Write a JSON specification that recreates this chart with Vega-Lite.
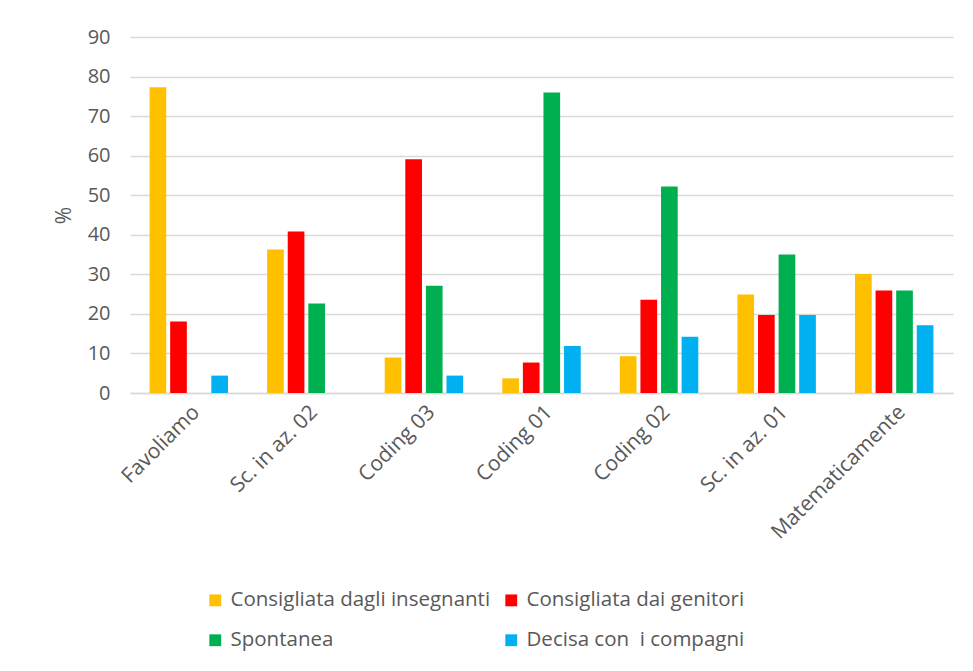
{
  "$schema": "https://vega.github.io/schema/vega-lite/v6.json",
  "autosize": {"type": "none"},
  "width": 823,
  "height": 356,
  "padding": {"left": 130, "top": 37, "right": 20, "bottom": 278},
  "background": "white",
  "config": {
    "font": "Open Sans",
    "view": {"stroke": null}
  },
  "data": {
    "values": [
      {"corso": "Favoliamo", "scelta": "Consigliata dagli insegnanti", "v": 77.3},
      {"corso": "Favoliamo", "scelta": "Consigliata dai genitori", "v": 18.1},
      {"corso": "Favoliamo", "scelta": "Spontanea", "v": 0},
      {"corso": "Favoliamo", "scelta": "Decisa con\u00a0 i compagni", "v": 4.4},
      {"corso": "Sc. in az. 02", "scelta": "Consigliata dagli insegnanti", "v": 36.3},
      {"corso": "Sc. in az. 02", "scelta": "Consigliata dai genitori", "v": 40.8},
      {"corso": "Sc. in az. 02", "scelta": "Spontanea", "v": 22.6},
      {"corso": "Sc. in az. 02", "scelta": "Decisa con\u00a0 i compagni", "v": 0},
      {"corso": "Coding 03", "scelta": "Consigliata dagli insegnanti", "v": 9.0},
      {"corso": "Coding 03", "scelta": "Consigliata dai genitori", "v": 59.1},
      {"corso": "Coding 03", "scelta": "Spontanea", "v": 27.1},
      {"corso": "Coding 03", "scelta": "Decisa con\u00a0 i compagni", "v": 4.4},
      {"corso": "Coding 01", "scelta": "Consigliata dagli insegnanti", "v": 3.7},
      {"corso": "Coding 01", "scelta": "Consigliata dai genitori", "v": 7.7},
      {"corso": "Coding 01", "scelta": "Spontanea", "v": 76.0},
      {"corso": "Coding 01", "scelta": "Decisa con\u00a0 i compagni", "v": 11.9},
      {"corso": "Coding 02", "scelta": "Consigliata dagli insegnanti", "v": 9.3},
      {"corso": "Coding 02", "scelta": "Consigliata dai genitori", "v": 23.6},
      {"corso": "Coding 02", "scelta": "Spontanea", "v": 52.2},
      {"corso": "Coding 02", "scelta": "Decisa con\u00a0 i compagni", "v": 14.2},
      {"corso": "Sc. in az. 01", "scelta": "Consigliata dagli insegnanti", "v": 24.9},
      {"corso": "Sc. in az. 01", "scelta": "Consigliata dai genitori", "v": 19.7},
      {"corso": "Sc. in az. 01", "scelta": "Spontanea", "v": 35.0},
      {"corso": "Sc. in az. 01", "scelta": "Decisa con\u00a0 i compagni", "v": 19.7},
      {"corso": "Matematicamente", "scelta": "Consigliata dagli insegnanti", "v": 30.1},
      {"corso": "Matematicamente", "scelta": "Consigliata dai genitori", "v": 25.9},
      {"corso": "Matematicamente", "scelta": "Spontanea", "v": 25.9},
      {"corso": "Matematicamente", "scelta": "Decisa con\u00a0 i compagni", "v": 17.1}
    ]
  },
  "mark": {"type": "bar"},
  "encoding": {
    "x": {
      "field": "corso",
      "type": "nominal",
      "sort": null,
      "scale": {"paddingInner": 0, "paddingOuter": 0},
      "axis": {
        "title": null,
        "labelAngle": -45,
        "labelFontSize": 21,
        "labelColor": "#595959",
        "labelPadding": 8,
        "ticks": false,
        "domainColor": "#d9d9d9",
        "domainWidth": 1.5
      }
    },
    "xOffset": {
      "field": "scelta",
      "type": "nominal",
      "sort": ["Consigliata dagli insegnanti", "Consigliata dai genitori", "Spontanea", "Decisa con\u00a0 i compagni"],
      "scale": {"paddingInner": 0.19, "paddingOuter": 0.95}
    },
    "y": {
      "field": "v",
      "type": "quantitative",
      "scale": {"domain": [0, 90]},
      "axis": {
        "title": "%",
        "titleFontSize": 21,
        "titleFontWeight": "normal",
        "titleColor": "#595959",
        "titlePadding": 13,
        "values": [0, 10, 20, 30, 40, 50, 60, 70, 80, 90],
        "labelFontSize": 20,
        "labelColor": "#595959",
        "labelPadding": 20,
        "ticks": false,
        "domain": false,
        "gridColor": "#d9d9d9",
        "gridWidth": 1.5
      }
    },
    "color": {
      "field": "scelta",
      "type": "nominal",
      "sort": ["Consigliata dagli insegnanti", "Consigliata dai genitori", "Spontanea", "Decisa con\u00a0 i compagni"],
      "scale": {
        "domain": ["Consigliata dagli insegnanti", "Consigliata dai genitori", "Spontanea", "Decisa con\u00a0 i compagni"],
        "range": ["#ffc000", "#ff0000", "#00b050", "#00b0f0"]
      },
      "legend": {
        "title": null,
        "orient": "none",
        "direction": "horizontal",
        "legendX": 75,
        "legendY": 553,
        "columns": 2,
        "symbolType": "square",
        "symbolSize": 140,
        "symbolStrokeWidth": 0,
        "labelFontSize": 20.5,
        "labelColor": "#595959",
        "labelLimit": 400,
        "labelOffset": 5,
        "rowPadding": 19,
        "columnPadding": 10
      }
    }
  }
}
